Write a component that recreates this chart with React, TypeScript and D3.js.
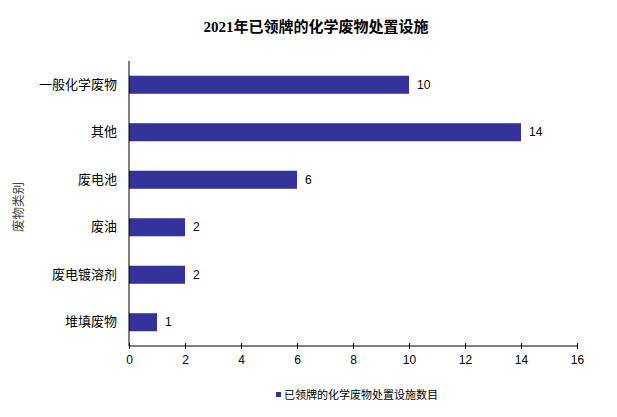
import { useEffect, useRef } from 'react'
import * as d3 from 'd3'

const categories = ['一般化学废物', '其他', '废电池', '废油', '废电镀溶剂', '堆填废物']
const counts = [10, 14, 6, 2, 2, 1]
const xTicks = [0, 2, 4, 6, 8, 10, 12, 14, 16]
const title = '2021年已领牌的化学废物处置设施'
const yTitle = '废物类别'
const seriesName = '已领牌的化学废物处置设施数目'

const W = 617
const H = 417
const barColor = '#333399'
const sans = '"Liberation Sans", Arial, "Noto Sans CJK SC", sans-serif'

export default function App() {
  const svgRef = useRef<SVGSVGElement>(null)

  useEffect(() => {
    document.body.style.margin = '0'
    if (!svgRef.current) return
    const svg = d3.select(svgRef.current)
    svg.selectAll('*').remove()

    const margin = { left: 129, right: 40, top: 61, bottom: 71 }
    const x = d3.scaleLinear().domain([0, 16]).range([margin.left, W - margin.right])
    const y = d3.scaleBand<string>()
      .domain(categories)
      .range([margin.top, H - margin.bottom])
      .paddingInner(0.62)
      .paddingOuter(0.31)

    svg.append('rect').attr('width', W).attr('height', H).attr('fill', '#fff')

    // title
    svg.append('text')
      .attr('x', 316)
      .attr('y', 32)
      .attr('text-anchor', 'middle')
      .style('font-family', '"Liberation Serif", "Noto Sans CJK SC", serif')
      .style('font-weight', 'bold')
      .style('font-size', '15px')
      .style('fill', '#000')
      .text(title)

    // bars
    svg.selectAll('rect.bar')
      .data(counts)
      .enter()
      .append('rect')
      .attr('class', 'bar')
      .attr('x', x(0))
      .attr('y', (d, i) => y(categories[i]) || 0)
      .attr('width', d => x(d) - x(0))
      .attr('height', y.bandwidth())
      .attr('fill', barColor)

    // value labels
    svg.selectAll('text.val')
      .data(counts)
      .enter()
      .append('text')
      .attr('class', 'val')
      .attr('x', d => x(d) + 8)
      .attr('y', (d, i) => (y(categories[i]) || 0) + y.bandwidth() / 2)
      .attr('dy', '0.35em')
      .style('font-family', sans)
      .style('font-size', '12px')
      .style('fill', '#000')
      .text(d => d)

    // x axis
    const xAxis = d3.axisBottom(x).tickValues(xTicks).tickSize(3).tickPadding(6)
    const gx = svg.append('g')
      .attr('transform', `translate(0,${H - margin.bottom})`)
      .call(xAxis)
    gx.select('.domain').attr('stroke', '#000').attr('d', `M${x(0)},0H${x(16)}`)
    gx.selectAll('.tick line').attr('y1', -3).attr('stroke', '#000')
    gx.selectAll('.tick text')
      .style('font-family', sans)
      .style('font-size', '12px')
      .style('fill', '#000')

    // y axis
    const yAxis = d3.axisLeft(y).tickSize(0).tickPadding(12)
    const gy = svg.append('g')
      .attr('transform', `translate(${x(0)},0)`)
      .call(yAxis)
    gy.select('.domain').attr('stroke', '#000').attr('d', `M0,${margin.top}V${H - margin.bottom}`)
    gy.selectAll('.tick text')
      .style('font-family', '"Noto Sans CJK SC", sans-serif')
      .style('font-size', '13px')
      .style('fill', '#000')

    // y title
    svg.append('text')
      .attr('transform', `translate(19,207) rotate(-90)`)
      .attr('text-anchor', 'middle')
      .attr('dy', '0.35em')
      .style('font-family', '"Noto Sans CJK SC", sans-serif')
      .style('font-size', '12.5px')
      .style('fill', '#444')
      .text(yTitle)

    // legend
    const lg = svg.append('g').attr('transform', 'translate(276,395)')
    lg.append('rect').attr('x', 0).attr('y', -3).attr('width', 5).attr('height', 5).attr('fill', barColor)
    lg.append('text')
      .attr('x', 8)
      .attr('dy', '0.35em')
      .style('font-family', '"Noto Sans CJK SC", sans-serif')
      .style('font-size', '11px')
      .style('fill', '#000')
      .text(seriesName)
  }, [])

  return <svg ref={svgRef} width={W} height={H} style={{ display: 'block' }} />
}
